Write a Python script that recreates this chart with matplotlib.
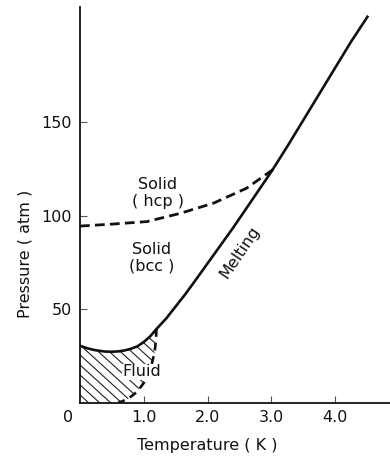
import numpy as np
from matplotlib import pyplot as plt
from matplotlib.patches import Polygon


# melting curve (K, atm)
melt_T = [0, 0.1, 0.2, 0.3, 0.4, 0.5, 0.6, 0.7, 0.8, 0.9, 1.0, 1.1, 1.2, 1.35, 1.5,
          1.65, 1.8, 2.0, 2.2, 2.4, 2.6, 2.8, 3.0, 3.25, 3.5, 3.75, 4.0, 4.25, 4.52]
melt_P = [30.5, 29.3, 28.4, 27.8, 27.4, 27.3, 27.5, 28.0, 28.9, 30.2, 32.5, 35.5, 39.5, 45, 51.5,
          58, 65, 74.5, 84, 93.5, 103.5, 113.5, 123.5, 137, 151, 165, 179, 193, 207]

# hcp / bcc boundary (dashed)
hcp_T = [0, 0.52, 1.05, 1.57, 2.09, 2.61, 3.03]
hcp_P = [94.5, 95.6, 96.9, 101.3, 106.7, 114.7, 124.8]

# edge of the fluid region (dashed)
fluid_T = [1.2, 1.19, 1.17, 1.12, 1.03, 0.9, 0.75, 0.6]
fluid_P = [39.5, 33, 27, 20, 12, 6, 2, 0]

xticks = [1, 2, 3, 4]
xticklabels = ['1.0', '2.0', '3.0', '4.0']
yticks = [50, 100, 150]

fs = 11.5

fig = plt.figure(figsize=(3.9, 4.59), dpi=100)
ax = fig.add_axes([80 / 390, 1 - 402.8 / 459, 310 / 390, 395.8 / 459])
ax.set_xlim(0, 310 / 63.75)
ax.set_ylim(0, 395.8 / 1.87)

for s in ['top', 'right']:
    ax.spines[s].set_visible(False)
for s in ['left', 'bottom']:
    ax.spines[s].set_linewidth(1.3)
    ax.spines[s].set_color('#111111')

ax.set_xticks(xticks)
ax.set_xticklabels(xticklabels)
ax.set_yticks(yticks)
ax.tick_params(direction='in', length=5, width=0.8, colors='#555555', labelcolor='#111111',
               labelsize=fs)
ax.tick_params(axis='x', pad=5)
ax.tick_params(axis='y', pad=6)
ax.annotate('0', xy=(0, 0), xytext=(-8.6, -10.8), textcoords='offset points',
            ha='center', va='center', fontsize=fs, color='#111111', annotation_clip=False)

# hatched fluid region
mask = [(t, p) for t, p in zip(melt_T, melt_P) if t <= 1.2]
poly = mask + list(zip(fluid_T[1:], fluid_P[1:])) + [(0, 0)]
patch = Polygon(poly, closed=True, facecolor='none', edgecolor='none')
ax.add_patch(patch)
for p0 in np.arange(4.2 - 5.35 * 2, 90, 5.35):
    ln, = ax.plot([0, 3], [p0, p0 - 31 * 3], color='#222222', lw=0.8)
    ln.set_clip_path(patch)

ax.plot(melt_T, melt_P, color='#111111', lw=1.9, solid_capstyle='butt')
ax.plot(hcp_T, hcp_P, color='#111111', lw=2.0, linestyle=(0, (3.5, 1.9)))
ax.plot(fluid_T, fluid_P, color='#111111', lw=1.9, linestyle=(0, (3.0, 2.2)))

ax.text(1.22, 112, 'Solid\n( hcp )', ha='center', va='center', fontsize=fs,
        linespacing=1.15, color='#111111')
ax.text(1.12, 77.7, 'Solid\n(bcc )', ha='center', va='center', fontsize=fs,
        linespacing=1.15, color='#111111')
ax.text(0.97, 16.6, 'Fluid', ha='center', va='center', fontsize=fs, color='#111111',
        bbox=dict(facecolor='white', edgecolor='none', pad=0.5))
ax.text(2.5, 80.5, 'Melting', ha='center', va='center', fontsize=fs, rotation=56,
        color='#111111')

ax.set_xlabel('Temperature ( K )', fontsize=fs, color='#111111')
ax.set_ylabel('Pressure ( atm )', fontsize=fs, color='#111111')
ax.xaxis.set_label_coords(0.41, -0.107)
ax.xaxis.label.set_va('center')
ax.yaxis.set_label_coords(-0.177, 0.376)
ax.yaxis.label.set_va('center')

fig.savefig('out.png', dpi=100)
